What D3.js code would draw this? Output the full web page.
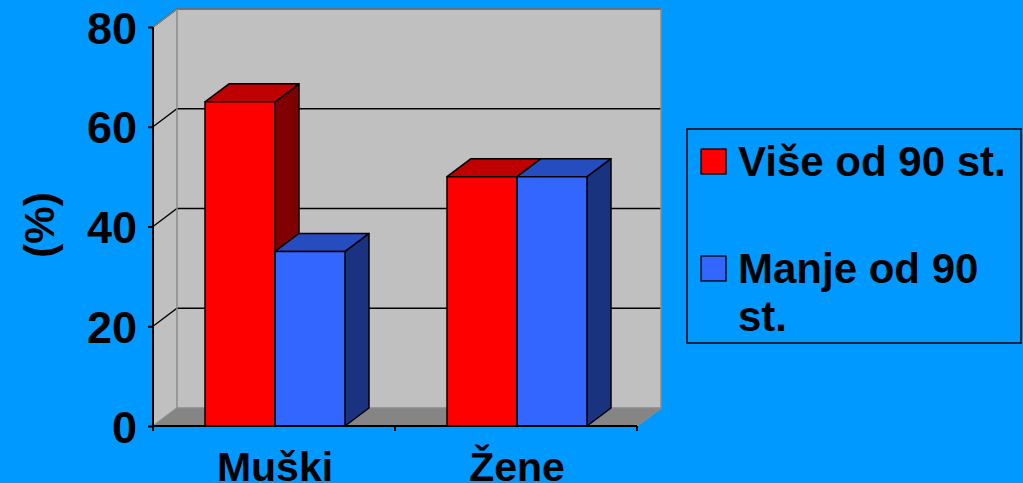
<!DOCTYPE html>
<html>
<head>
<meta charset="utf-8">
<script src="https://cdn.jsdelivr.net/npm/d3@7"></script>
<style>
  body { margin: 0; background: #0099ff; }
  svg text { font-family: Arial, "Liberation Sans", sans-serif; font-weight: bold; fill: #000; }
</style>
</head>
<body>
<div id="chart"></div>
<script>
// podaci
const categories = ['Muški', 'Žene'];
const series = ['Više od 90 st.', 'Manje od 90 st.'];
const vise = [65, 50];
const manje = [35, 50];
const yTicks = [0, 20, 40, 60, 80];

const colors = [
  {front: '#ff0000', top: '#bf0000', side: '#800000'},
  {front: '#3366ff', top: '#264dbf', side: '#1a3380'}
];

const W = 1023, H = 483;
const dx = 24, dy = -18; // dubina 3D

const svg = d3.select('#chart').append('svg')
  .attr('width', W)
  .attr('height', H);

svg.append('rect').attr('width', W).attr('height', H).attr('fill', '#0099ff');

const x0 = d3.scaleBand().domain(categories).range([153, 637]);
const y = d3.scaleLinear().domain([0, 80]).range([426, 27]);
const xL = x0.range()[0], xR = x0.range()[1];

// zidovi
const wall = svg.append('g');
// bocni zid
wall.append('path')
  .attr('d', `M${xL},${y(0)} L${xL},${y(80)} L${xL + dx},${y(80) + dy} L${xL + dx},${y(0) + dy} Z`)
  .attr('fill', '#c0c0c0');
// zadnji zid
wall.append('rect')
  .attr('x', xL + dx).attr('y', y(80) + dy)
  .attr('width', xR - xL).attr('height', y(0) - y(80))
  .attr('fill', '#c0c0c0');
// pod
wall.append('path')
  .attr('d', `M${xL},${y(0)} L${xL + dx},${y(0) + dy} L${xR + dx},${y(0) + dy} L${xR},${y(0)} Z`)
  .attr('fill', '#858585');

// linije mreze
yTicks.filter(d => d > 0).forEach(t => {
  wall.append('path')
    .attr('d', `M${xL},${y(t)} L${xL + dx},${y(t) + dy} L${xR + dx},${y(t) + dy}`)
    .attr('fill', 'none')
    .attr('stroke', '#000')
    .attr('stroke-width', 1.3);
});

// ivice zidova
wall.append('path')
  .attr('d', `M${xL},${y(80)} L${xL + dx},${y(80) + dy} L${xR + dx},${y(80) + dy} L${xR + dx},${y(0) + dy} L${xR},${y(0)}
              M${xL + dx},${y(80) + dy} L${xL + dx},${y(0) + dy} L${xR + dx},${y(0) + dy}
              M${xL},${y(0)} L${xL + dx},${y(0) + dy}`)
  .attr('fill', 'none')
  .attr('stroke', '#8a8a8a')
  .attr('stroke-width', 1.5);

// stupci
const groupW = 140;
const x1 = d3.scaleBand().domain(series).range([0, groupW]);
const values = [vise, manje];

const bars = svg.append('g').attr('stroke', '#000').attr('stroke-width', 1.5).attr('stroke-linejoin', 'round');
categories.forEach((c, ci) => {
  const gx = x0(c) + (x0.bandwidth() - groupW) / 2 + 1;
  series.forEach((s, si) => {
    const v = values[si][ci];
    const xa = gx + x1(s), xb = xa + x1.bandwidth();
    const yt = y(v), yb = y(0);
    const col = colors[si];
    // bok
    bars.append('path')
      .attr('d', `M${xb},${yt} L${xb + dx},${yt + dy} L${xb + dx},${yb + dy} L${xb},${yb} Z`)
      .attr('fill', col.side);
    // vrh
    bars.append('path')
      .attr('d', `M${xa},${yt} L${xa + dx},${yt + dy} L${xb + dx},${yt + dy} L${xb},${yt} Z`)
      .attr('fill', col.top);
    // prednja strana
    bars.append('rect')
      .attr('x', xa).attr('y', yt)
      .attr('width', xb - xa).attr('height', yb - yt)
      .attr('fill', col.front);
  });
});

// y os
const yAxis = svg.append('g')
  .attr('transform', `translate(${xL},0)`)
  .call(d3.axisLeft(y).tickValues(yTicks).tickSize(5).tickPadding(11));
yAxis.select('.domain').attr('stroke', '#000').attr('stroke-width', 2).attr('d', `M0,${y(0)}V${y(80)}`);
yAxis.selectAll('.tick line').attr('stroke', '#000').attr('stroke-width', 2);
yAxis.selectAll('.tick text')
  .attr('font-size', 45)
  .attr('font-family', 'Arial, "Liberation Sans", sans-serif')
  .attr('font-weight', 'bold')
  .attr('dy', '0.36em');

// x os
const xAxis = svg.append('g');
xAxis.append('line')
  .attr('x1', xL).attr('x2', xR).attr('y1', y(0)).attr('y2', y(0))
  .attr('stroke', '#000').attr('stroke-width', 2);
const bounds = categories.map(c => x0(c)).concat([xR]);
xAxis.selectAll('.xt').data(bounds).enter().append('line')
  .attr('x1', d => d).attr('x2', d => d)
  .attr('y1', y(0)).attr('y2', y(0) + 5)
  .attr('stroke', '#000').attr('stroke-width', 2);
xAxis.selectAll('.xl').data(categories).enter().append('text')
  .attr('x', d => x0(d) + x0.bandwidth() / 2 + 1)
  .attr('y', 481)
  .attr('text-anchor', 'middle')
  .attr('font-size', 41)
  .text(d => d);

// naslov y osi
svg.append('text')
  .attr('transform', 'translate(54,225) rotate(-90)')
  .attr('text-anchor', 'middle')
  .attr('font-size', 42)
  .text('(%)');

// legenda
const leg = svg.append('g');
leg.append('rect')
  .attr('x', 687).attr('y', 129).attr('width', 334).attr('height', 214)
  .attr('fill', 'none').attr('stroke', '#000').attr('stroke-width', 1.5);
const legRows = [
  {lines: ['Više od 90 st.'], sy: 149, ty: 176},
  {lines: ['Manje od 90', 'st.'], sy: 256, ty: 283}
];
legRows.forEach((r, i) => {
  leg.append('rect')
    .attr('x', 701).attr('y', r.sy).attr('width', 25).attr('height', 25)
    .attr('fill', colors[i].front).attr('stroke', '#000').attr('stroke-width', 1.3);
  r.lines.forEach((t, j) => {
    leg.append('text')
      .attr('x', 738).attr('y', r.ty + j * 48)
      .attr('font-size', 42)
      .text(t);
  });
});
</script>
</body>
</html>
